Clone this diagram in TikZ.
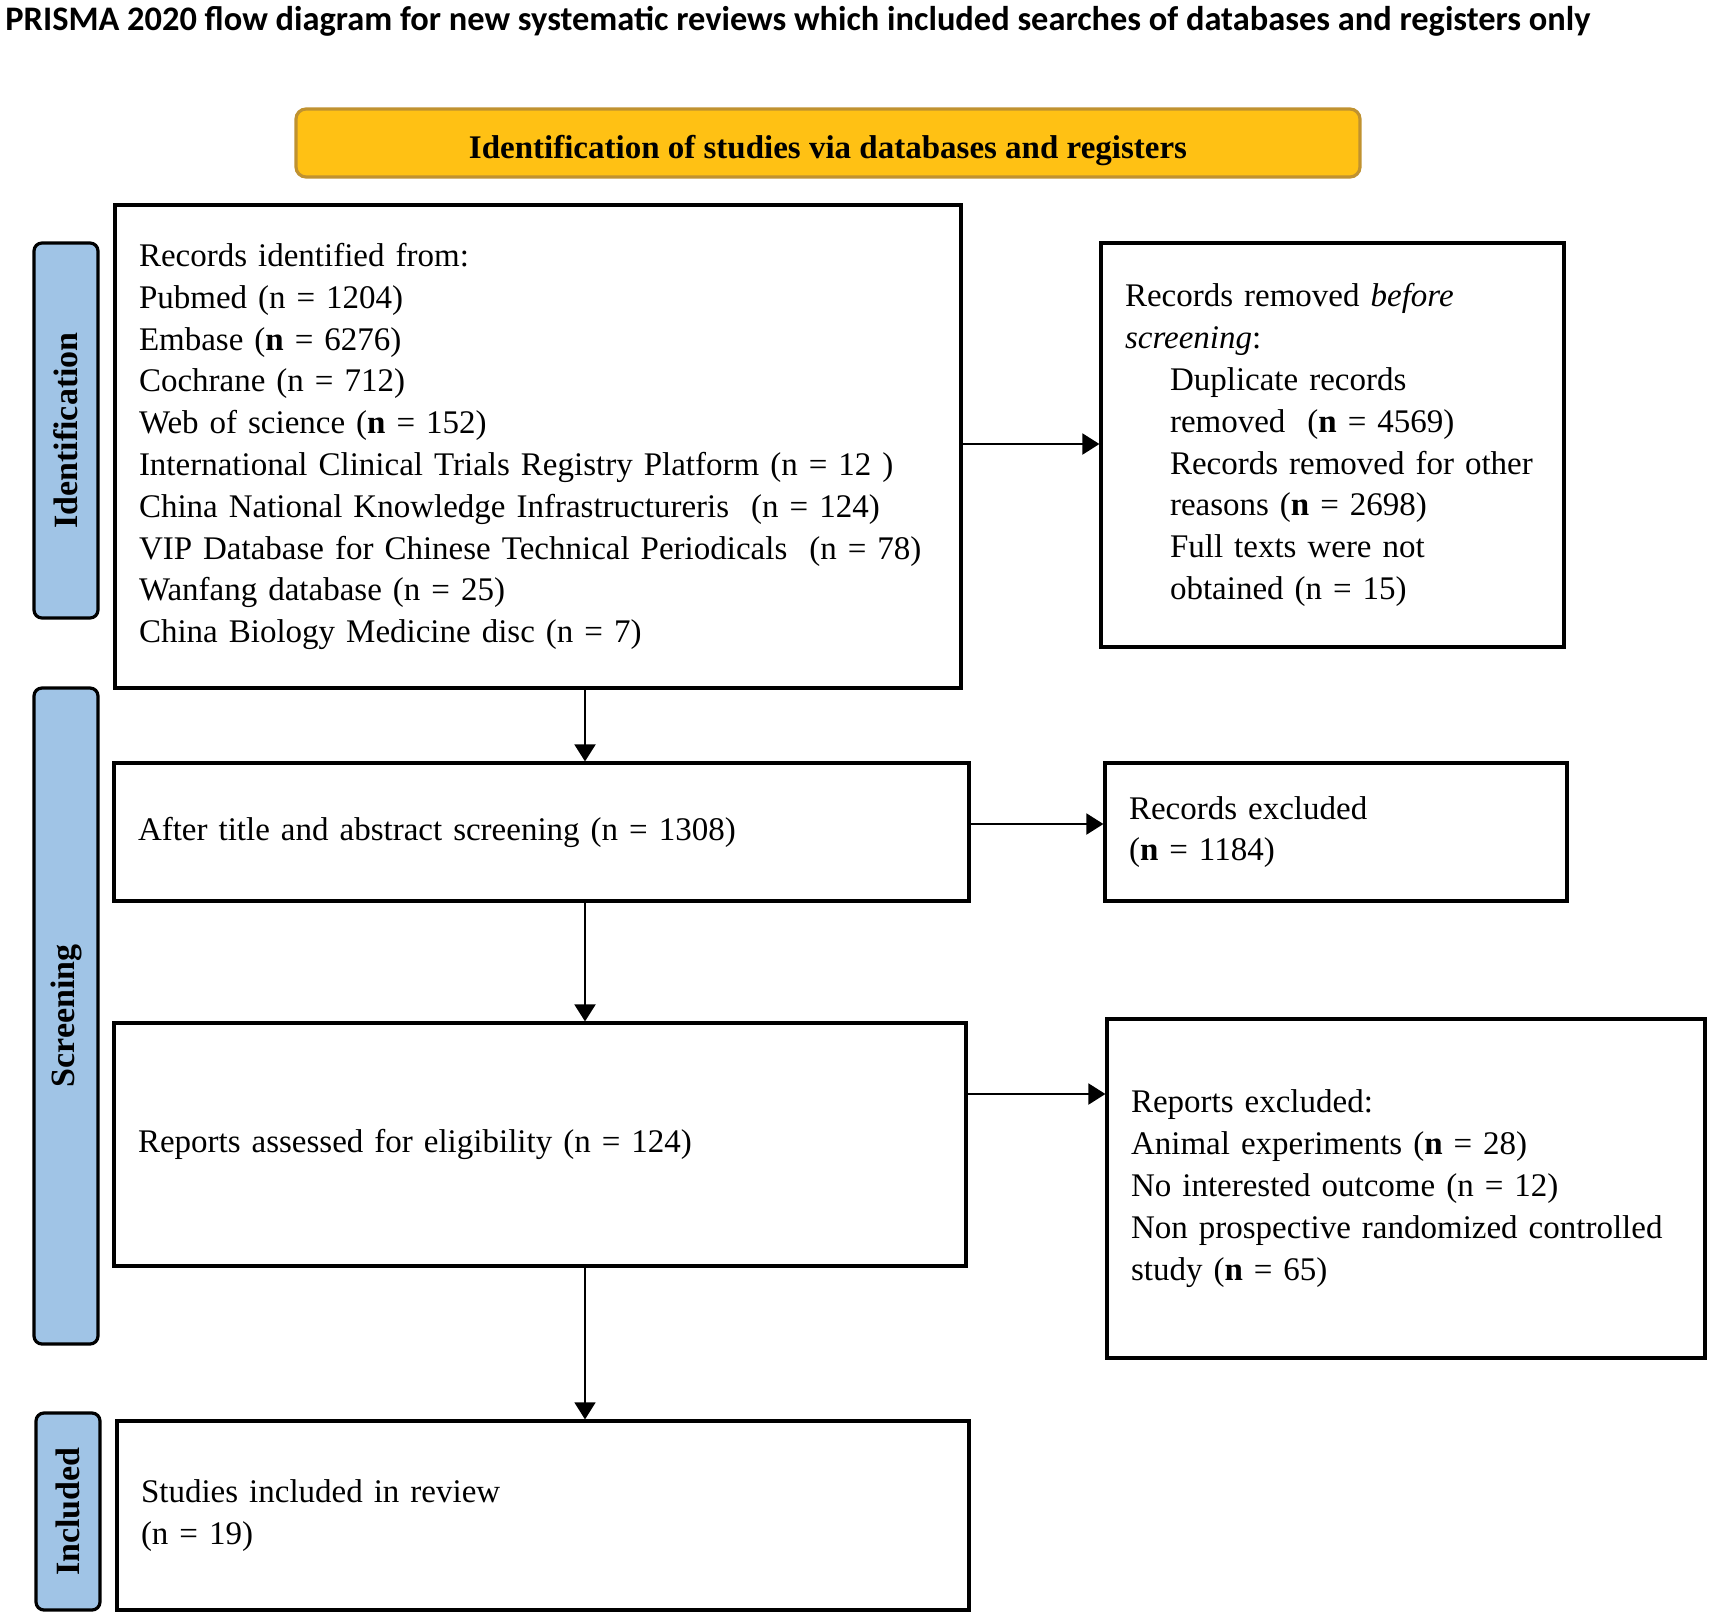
\documentclass[tikz,border=0pt]{standalone}
\usepackage{fontspec}
\setmainfont{Liberation Serif}
\newfontfamily\titlefont{Carlito}
\usetikzlibrary{arrows.meta}
\definecolor{phaseblue}{RGB}{160,196,230}
\definecolor{headgold}{RGB}{255,193,20}
\definecolor{headrim}{RGB}{192,146,48}
\newcommand{\bodyfont}{\fontsize{16.5pt}{20.9pt}\selectfont}

\begin{document}
\begin{tikzpicture}[x=0.5pt, y=-0.5pt, >={Triangle[length=8.5pt, width=10.5pt]},
	box/.style={draw, line width=1.6pt, inner xsep=12pt, inner ysep=0pt, align=left, font=\bodyfont},
	phase/.style={draw, line width=1.6pt, fill=phaseblue, rounded corners=4pt, minimum height=32pt, rotate=90, inner sep=0pt, font=\fontsize{17pt}{20pt}\selectfont\bfseries},
	flow/.style={->, line width=1pt}]
	\useasboundingbox (0,0) rectangle (1713,1619);
	\node[anchor=base west, inner sep=0pt, font=\titlefont\fontsize{17.2pt}{20pt}\selectfont\bfseries] (title) at (5,30) {PRISMA 2020 flow diagram for new systematic reviews which included searches of databases and registers only};
	\node[draw=headrim, line width=1.6pt, fill=headgold, rounded corners=5pt, minimum width=532pt, minimum height=34pt, inner sep=0pt, font=\fontsize{16.5pt}{20pt}\selectfont\bfseries] (head) at (828,143) {\raisebox{-3.8pt}[\height][\depth]{Identification of studies via databases and registers}};
	% phase labels
	\node[phase, minimum width=187.5pt] (idbar) at (66,430.5) {Identification};
	\node[phase, minimum width=328pt] (scbar) at (66,1016) {Screening};
	\node[phase, minimum width=98.5pt] (inbar) at (68,1511.5) {Included};
	% main column
	\node[box, text width=399pt, minimum height=241.5pt] (ident) at (538,446.5) {Records identified from:\\ Pubmed (n = 1204)\\ Embase (\textbf{n} = 6276)\\ Cochrane (n = 712)\\ Web of science (\textbf{n} = 152)\\ International Clinical Trials Registry Platform (n = 12 )\\ China National Knowledge Infrastructureris\ \ (n = 124)\\ \mbox{VIP Database for Chinese Technical Periodicals\ \ (n = 78)}\\ Wanfang database (n = 25)\\ China Biology Medicine disc (n = 7)};
	\node[box, text width=403.5pt, minimum height=69pt] (after) at (541.5,832) {After title and abstract screening (n = 1308)};
	\node[box, text width=402pt, minimum height=121.5pt] (assessed) at (540,1144.5) {Reports assessed for eligibility (n = 124)};
	\node[box, text width=402pt, minimum height=94.5pt] (studies) at (543,1515.5) {Studies included in review\\ (n = 19)};
	% side column
	\node[box, text width=207.5pt, minimum height=202pt] (removed) at (1332.5,445) {Records removed \textit{before}\\ \textit{screening}:\\ \hspace*{22.5pt}Duplicate records\\ \hspace*{22.5pt}removed\ \ (\textbf{n} = 4569)\\ \hspace*{22.5pt}\mbox{Records removed for other}\\ \hspace*{22.5pt}reasons (\textbf{n} = 2698)\\ \hspace*{22.5pt}Full texts were not\\ \hspace*{22.5pt}obtained (n = 15)};
	\node[box, text width=207pt, minimum height=69pt] (excl) at (1336,832) {Records excluded\\ (\textbf{n} = 1184)};
	\node[box, text width=275pt, minimum height=169.5pt] (repexcl) at (1406,1188.5) {Reports excluded:\\ Animal experiments (\textbf{n} = 28)\\ No interested outcome (n = 12)\\ \mbox{Non prospective randomized controlled}\\ study (\textbf{n} = 65)};
	% connectors
	\coordinate (spine) at (585,0);
	\coordinate (r1) at (0,444);
	\coordinate (r2) at (0,824);
	\coordinate (r3) at (0,1094);
	\draw[flow] (ident.east |- r1) -- (removed.west |- r1);
	\draw[flow] (ident.south -| spine) -- (after.north -| spine);
	\draw[flow] (after.east |- r2) -- (excl.west |- r2);
	\draw[flow] (after.south -| spine) -- (assessed.north -| spine);
	\draw[flow] (assessed.east |- r3) -- (repexcl.west |- r3);
	\draw[flow, line width=0.7pt] (assessed.south -| spine) -- (studies.north -| spine);
\end{tikzpicture}
\end{document}
